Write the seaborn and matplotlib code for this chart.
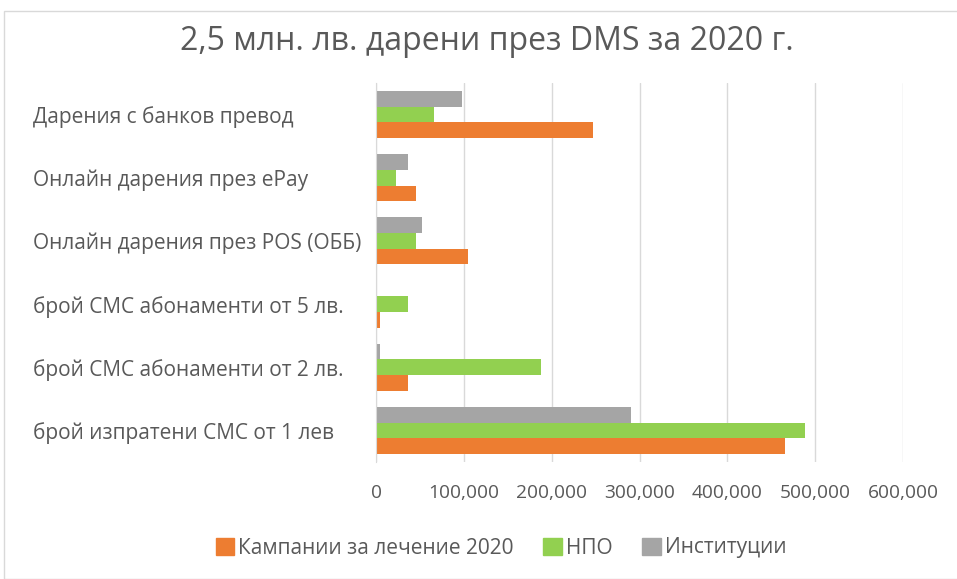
import matplotlib
matplotlib.use('Agg')
import matplotlib.pyplot as plt
import matplotlib.ticker as mticker
from matplotlib.patches import Patch, Rectangle
import pandas as pd
import seaborn as sns

# данни (отгоре надолу)
categories = ['Дарения с банков превод',
              'Онлайн дарения през ePay',
              'Онлайн дарения през POS (ОББ)',
              'брой СМС абонаменти от 5 лв.',
              'брой СМС абонаменти от 2 лв.',
              'брой изпратени СМС от 1 лев']
kampanii = [247000, 45000, 105000, 5000, 37000, 466000]
npo = [66000, 23000, 45000, 37000, 188000, 488000]
institucii = [98000, 37000, 52000, 0, 4500, 290000]
series = ['Кампании за лечение 2020', 'НПО', 'Институции']
colors = {'Кампании за лечение 2020': '#ED7D31', 'НПО': '#92D050', 'Институции': '#A5A5A5'}

df = pd.DataFrame({'category': categories * 3,
                   'series': [series[0]] * 6 + [series[1]] * 6 + [series[2]] * 6,
                   'value': kampanii + npo + institucii})

sns.set_style('white')
plt.rcParams['font.family'] = ['Open Sans', 'DejaVu Sans']
txt = '#595959'

fig = plt.figure(figsize=(9.57, 5.79), dpi=100)
ax = fig.add_axes([376 / 957, 1 - 462 / 579, (903 - 376) / 957, (462 - 83) / 579])

# в групата: сиво отгоре, оранжево отдолу
sns.barplot(data=df, y='category', x='value', hue='series', order=categories,
            hue_order=series[::-1], palette=colors, orient='h', width=0.745,
            linewidth=0, saturation=1, ax=ax)

ax.set_xlim(0, 600000)
ax.xaxis.set_major_locator(mticker.MultipleLocator(100000))
ax.xaxis.set_major_formatter(mticker.FuncFormatter(lambda v, p: f'{int(v):,}'))
ax.grid(axis='x', color='#D9D9D9', linewidth=1)
ax.set_axisbelow(True)
for s in ['top', 'right', 'bottom']:
    ax.spines[s].set_visible(False)
ax.spines['left'].set_color('#D9D9D9')
ax.set_xlabel('')
ax.set_ylabel('')
ax.tick_params(axis='x', colors=txt, labelsize=13.8, length=0, pad=16)
ax.tick_params(axis='y', colors=txt, labelsize=15, length=0, pad=247)
for lbl in ax.get_yticklabels():
    lbl.set_horizontalalignment('left')

ax.legend_.remove()
handles = [Patch(color=colors[s]) for s in series]
fig.legend(handles, series, loc='center', bbox_to_anchor=(501 / 957, 1 - 548 / 579),
           ncol=3, frameon=False, fontsize=15, labelcolor=txt,
           handlelength=0.9, handleheight=0.9, handletextpad=0.2, columnspacing=1.4)

fig.text(487 / 957, 1 - 41 / 579, '2,5 млн. лв. дарени през DMS за 2020 г.',
         ha='center', va='center', fontsize=23, color=txt)

fig.patches.append(Rectangle((4 / 957, 0), 1, 1 - 11 / 579, transform=fig.transFigure,
                             fill=False, edgecolor='#D9D9D9', linewidth=1))

fig.savefig('out.png', dpi=100)
